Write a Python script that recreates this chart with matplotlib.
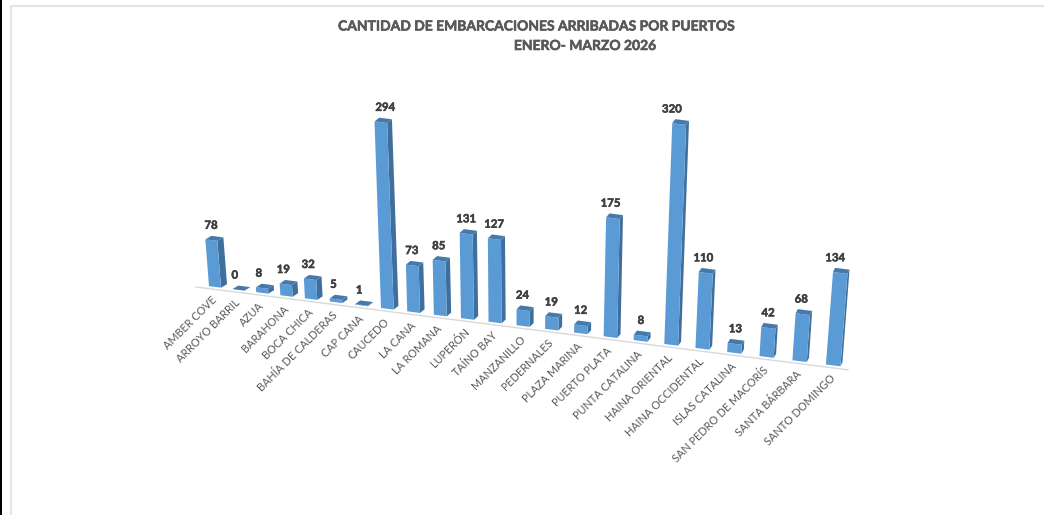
import matplotlib
matplotlib.use('Agg')
import matplotlib.pyplot as plt
import matplotlib.patheffects as pe
from matplotlib.patches import Rectangle

plt.rcParams['font.family'] = ['Lato', 'DejaVu Sans']

puertos = ['AMBER COVE', 'ARROYO BARRIL', 'AZUA', 'BARAHONA', 'BOCA CHICA',
           'BAHÍA DE CALDERAS', 'CAP CANA', 'CAUCEDO', 'LA CANA', 'LA ROMANA',
           'LUPERÓN', 'TAÍNO BAY', 'MANZANILLO', 'PEDERNALES', 'PLAZA MARINA',
           'PUERTO PLATA', 'PUNTA CATALINA', 'HAINA ORIENTAL', 'HAINA OCCIDENTAL',
           'ISLAS CATALINA', 'SAN PEDRO DE MACORÍS', 'SANTA BÁRBARA', 'SANTO DOMINGO']
embarcaciones = [78, 0, 8, 19, 32, 5, 1, 294, 73, 85, 131, 127, 24, 19, 12,
                 175, 8, 320, 110, 13, 42, 68, 134]

FRENTE = '#5b9bd5'
LADO = '#3f6f9c'
TAPA = '#4679ab'
GRIS = '#595959'

# perspectiva del grafico 3D
PENDIENTE = 0.127
ESCALA = 0.60
FUGA = 520


def profundidad(i):
    return 1 - 0.0078 * i


def base_x(i):
    return (209 + 21.6 * i) / profundidad(i)


def base_y(x):
    return 284.5 + PENDIENTE * (x - 196)


def barra(ax, i, valor):
    w = profundidad(i)
    ancho = 12 / w
    # el lado visible se estrecha hacia la derecha
    fondo_x = 6 - 0.18 * i
    fondo_y = 3.5 / w
    x0 = base_x(i)
    y0 = base_y(x0)
    x1 = x0 + ancho
    y1 = y0 + ancho * PENDIENTE
    h = valor * min(ESCALA / w, 0.69)
    inc = (x0 - FUGA) / 4000 * h
    # caras lateral, frontal y superior
    ax.fill([x1, x1 + fondo_x, x1 + fondo_x + inc, x1 + inc],
            [y1, y1 - fondo_y, y1 - fondo_y - h, y1 - h], color=LADO, lw=0)
    ax.fill([x0, x1, x1 + inc, x0 + inc],
            [y0, y1, y1 - h, y0 - h], color=FRENTE, lw=0)
    ax.fill([x0 + inc, x1 + inc, x1 + inc + fondo_x, x0 + inc + fondo_x],
            [y0 - h, y1 - h, y1 - h - fondo_y, y0 - h - fondo_y], color=TAPA, lw=0)
    return x0 + ancho / 2, y0 - h - fondo_y


fig = plt.figure(figsize=(10.44, 5.15), dpi=100)
ax = fig.add_axes([0, 0, 1, 1])
ax.set_xlim(0, 1044)
ax.set_ylim(515, 0)
ax.axis('off')

# borde de la captura
ax.add_patch(Rectangle((0, 0), 2, 515, color='black', lw=0))
ax.plot([10.5, 10.5, 1044], [515, 5.5, 5.5], color='#e4e4e4', lw=1.5)

# linea del eje
ax.plot([196, 848], [base_y(196) + 2.5, base_y(848) + 2.5], color='#d9d9d9', lw=1)

negrita = [pe.withStroke(linewidth=0.4, foreground='#595959')]

for i, (puerto, valor) in enumerate(zip(puertos, embarcaciones)):
    cx, cy = barra(ax, i, valor)
    ax.text(cx - 4 + 6 * i / 22, cy - 5 + i / 44, str(valor), ha='center', va='bottom',
            fontsize=8.2, fontweight='bold', color='#404040',
            path_effects=[pe.withStroke(linewidth=0.4, foreground='#404040')])
    xe = base_x(i) + 6 / profundidad(i)
    ax.text(xe, base_y(xe) + 11.5, puerto, rotation=45, rotation_mode='anchor',
            ha='right', va='center', fontsize=7.8, color=GRIS)

ax.text(536, 26.5, 'CANTIDAD DE EMBARCACIONES ARRIBADAS POR PUERTOS', ha='center', va='center',
        fontsize=10, fontweight='bold', color=GRIS, path_effects=negrita)
ax.text(585, 46, 'ENERO- MARZO 2026', ha='center', va='center',
        fontsize=10, fontweight='bold', color=GRIS, path_effects=negrita)

fig.savefig('out.png', dpi=100)
